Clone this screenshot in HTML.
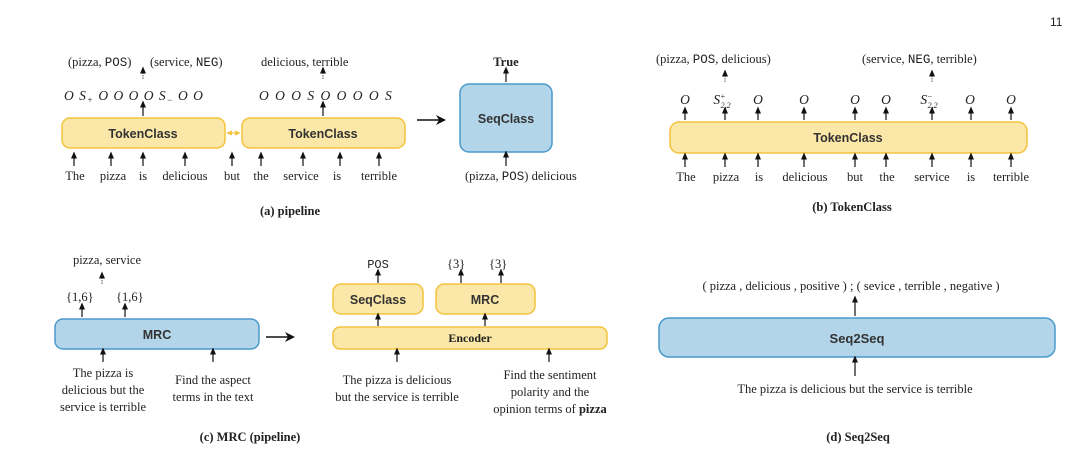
<!DOCTYPE html>
<html><head><meta charset="utf-8"><style>
html,body{margin:0;padding:0;background:#fff;}
svg{display:block;}
text{font-family:"Liberation Serif",serif;fill:#222;}
.s{font-family:"Liberation Sans",sans-serif;font-weight:bold;fill:#333;}
.p{font-family:"Liberation Sans",sans-serif;}
.m{font-family:"Liberation Mono",monospace;}
.y{fill:#fbe7a7;stroke:#f3c33d;stroke-width:1.5;}
.b{fill:#b3d5ea;stroke:#4a9acb;stroke-width:1.5;}
.a{stroke:#111;stroke-width:1.2;marker-end:url(#h);}
.d{stroke:#555;stroke-width:1;stroke-dasharray:1.5 1;marker-end:url(#h);}
</style></head><body>
<svg width="1080" height="462" viewBox="0 0 1080 462" xmlns="http://www.w3.org/2000/svg">
<defs>
<marker id="h" markerWidth="7" markerHeight="7" refX="3.5" refY="3.5" orient="auto" markerUnits="userSpaceOnUse"><path d="M0,0.5 L7,3.5 L0,6.5 z" fill="#111"/></marker>
<marker id="hb" markerWidth="12" markerHeight="12" refX="8" refY="5" orient="auto" markerUnits="userSpaceOnUse"><path d="M0,0 L10,5 L0,10 L3,5 z" fill="#111"/></marker>
<marker id="ho" markerWidth="6" markerHeight="6" refX="3" refY="3" orient="auto-start-reverse" markerUnits="userSpaceOnUse"><path d="M0,0.5 L6,3 L0,5.5 z" fill="#f3c33d"/></marker>
</defs>
<text x="1050" y="26" font-size="12" class="p">11</text>

<!-- (a) -->
<text x="68" y="66" font-size="12.5">(pizza, <tspan class="m">POS</tspan>)</text>
<text x="150" y="66" font-size="12.5">(service, <tspan class="m">NEG</tspan>)</text>
<line class="d" x1="143" y1="79" x2="143" y2="70"/>
<text x="64" y="100" font-size="13.5" font-style="italic" letter-spacing="1">O S<tspan font-size="9" dy="3">+</tspan><tspan dy="-3"> O O O O S</tspan><tspan font-size="9" dy="3">−</tspan><tspan dy="-3"> O O</tspan></text>
<line class="a" x1="143" y1="116" x2="143" y2="104"/>
<text x="261" y="66" font-size="12.5">delicious, terrible</text>
<line class="d" x1="323" y1="79" x2="323" y2="70"/>
<text x="259" y="100" font-size="13.5" font-style="italic" letter-spacing="1.5">O O O S O O O O S</text>
<line class="a" x1="323" y1="116" x2="323" y2="104"/>
<rect class="y" x="62" y="118" width="163" height="30" rx="8"/>
<text x="143" y="138" font-size="12.5" class="s" text-anchor="middle">TokenClass</text>
<rect class="y" x="242" y="118" width="163" height="30" rx="8"/>
<text x="323" y="138" font-size="12.5" class="s" text-anchor="middle">TokenClass</text>
<line x1="229" y1="133" x2="238" y2="133" stroke="#f3c33d" stroke-width="1.2" marker-end="url(#ho)" marker-start="url(#ho)"/>
<g font-size="12.5" text-anchor="middle">
<text x="75" y="180">The</text><text x="113" y="180">pizza</text><text x="143" y="180">is</text><text x="185" y="180">delicious</text><text x="232" y="180">but</text><text x="261" y="180">the</text><text x="301" y="180">service</text><text x="337" y="180">is</text><text x="379" y="180">terrible</text>
</g>
<g>
<line class="a" x1="74" y1="166" x2="74" y2="155"/><line class="a" x1="111" y1="166" x2="111" y2="155"/><line class="a" x1="143" y1="166" x2="143" y2="155"/><line class="a" x1="185" y1="166" x2="185" y2="155"/><line class="a" x1="232" y1="166" x2="232" y2="155"/><line class="a" x1="261" y1="166" x2="261" y2="155"/><line class="a" x1="303" y1="166" x2="303" y2="155"/><line class="a" x1="340" y1="166" x2="340" y2="155"/><line class="a" x1="379" y1="166" x2="379" y2="155"/>
</g>
<line x1="417" y1="120" x2="444" y2="120" stroke="#111" stroke-width="1.5" marker-end="url(#hb)"/>
<rect class="b" x="460" y="84" width="92" height="68" rx="9"/>
<text x="506" y="123" font-size="12.5" class="s" text-anchor="middle">SeqClass</text>
<text x="506" y="66" font-size="12.5" font-weight="bold" text-anchor="middle">True</text>
<line class="a" x1="506" y1="82" x2="506" y2="70"/>
<line class="a" x1="506" y1="166" x2="506" y2="154"/>
<text x="465" y="180" font-size="12.5">(pizza, <tspan class="m">POS</tspan>)  delicious</text>
<text x="290" y="215" font-size="12.5" font-weight="bold" text-anchor="middle">(a) pipeline</text>

<!-- (b) -->
<text x="656" y="63" font-size="12.5">(pizza, <tspan class="m">POS</tspan>, delicious)</text>
<text x="862" y="63" font-size="12.5">(service, <tspan class="m">NEG</tspan>, terrible)</text>
<line class="d" x1="725" y1="82" x2="725" y2="73"/>
<line class="d" x1="932" y1="82" x2="932" y2="73"/>
<g font-size="13.5" font-style="italic" text-anchor="middle">
<text x="685" y="104">O</text><text x="722" y="104">S<tspan font-size="8" dy="-5">+</tspan><tspan font-size="8" dx="-5" dy="9">2,2</tspan></text><text x="758" y="104">O</text><text x="804" y="104">O</text><text x="855" y="104">O</text><text x="886" y="104">O</text><text x="929" y="104">S<tspan font-size="8" dy="-5">−</tspan><tspan font-size="8" dx="-5" dy="9">2,2</tspan></text><text x="970" y="104">O</text><text x="1011" y="104">O</text>
</g>
<g>
<line class="a" x1="685" y1="120" x2="685" y2="110"/><line class="a" x1="725" y1="120" x2="725" y2="110"/><line class="a" x1="758" y1="120" x2="758" y2="110"/><line class="a" x1="804" y1="120" x2="804" y2="110"/><line class="a" x1="855" y1="120" x2="855" y2="110"/><line class="a" x1="886" y1="120" x2="886" y2="110"/><line class="a" x1="932" y1="120" x2="932" y2="110"/><line class="a" x1="971" y1="120" x2="971" y2="110"/><line class="a" x1="1011" y1="120" x2="1011" y2="110"/>
</g>
<rect class="y" x="670" y="122" width="357" height="31" rx="9"/>
<text x="848" y="142" font-size="12.5" class="s" text-anchor="middle">TokenClass</text>
<g>
<line class="a" x1="685" y1="167" x2="685" y2="156"/><line class="a" x1="725" y1="167" x2="725" y2="156"/><line class="a" x1="758" y1="167" x2="758" y2="156"/><line class="a" x1="804" y1="167" x2="804" y2="156"/><line class="a" x1="855" y1="167" x2="855" y2="156"/><line class="a" x1="886" y1="167" x2="886" y2="156"/><line class="a" x1="932" y1="167" x2="932" y2="156"/><line class="a" x1="971" y1="167" x2="971" y2="156"/><line class="a" x1="1011" y1="167" x2="1011" y2="156"/>
</g>
<g font-size="12.5" text-anchor="middle">
<text x="686" y="181">The</text><text x="726" y="181">pizza</text><text x="759" y="181">is</text><text x="805" y="181">delicious</text><text x="855" y="181">but</text><text x="887" y="181">the</text><text x="932" y="181">service</text><text x="971" y="181">is</text><text x="1011" y="181">terrible</text>
</g>
<text x="852" y="211" font-size="12.5" font-weight="bold" text-anchor="middle">(b) TokenClass</text>

<!-- (c) -->
<text x="73" y="264" font-size="12.5">pizza, service</text>
<line class="d" x1="102" y1="284" x2="102" y2="275"/>
<text x="66" y="301" font-size="12.5">{1,6}</text>
<text x="116" y="301" font-size="12.5">{1,6}</text>
<line class="a" x1="82" y1="317" x2="82" y2="306"/>
<line class="a" x1="125" y1="317" x2="125" y2="306"/>
<rect class="b" x="55" y="319" width="204" height="30" rx="8"/>
<text x="157" y="339" font-size="12.5" class="s" text-anchor="middle">MRC</text>
<line class="a" x1="103" y1="362" x2="103" y2="351"/>
<line class="a" x1="213" y1="362" x2="213" y2="351"/>
<g font-size="12.5" text-anchor="middle">
<text x="103" y="377">The pizza is</text><text x="103" y="394">delicious but the</text><text x="103" y="411">service is terrible</text>
<text x="213" y="384">Find the aspect</text><text x="213" y="401">terms in the text</text>
</g>
<line x1="266" y1="337" x2="293" y2="337" stroke="#111" stroke-width="1.5" marker-end="url(#hb)"/>
<text x="378" y="268" font-size="12" class="m" text-anchor="middle">POS</text>
<text x="447" y="268" font-size="12.5">{3}</text>
<text x="489" y="268" font-size="12.5">{3}</text>
<line class="a" x1="378" y1="283" x2="378" y2="272"/>
<line class="a" x1="461" y1="283" x2="461" y2="272"/>
<line class="a" x1="501" y1="283" x2="501" y2="272"/>
<rect class="y" x="333" y="284" width="90" height="30" rx="8"/>
<text x="378" y="304" font-size="12.5" class="s" text-anchor="middle">SeqClass</text>
<rect class="y" x="436" y="284" width="99" height="30" rx="8"/>
<text x="485" y="304" font-size="12.5" class="s" text-anchor="middle">MRC</text>
<line class="a" x1="378" y1="326" x2="378" y2="316"/>
<line class="a" x1="485" y1="326" x2="485" y2="316"/>
<rect class="y" x="333" y="327" width="274" height="22" rx="7"/>
<text x="470" y="342" font-size="12" font-weight="bold" text-anchor="middle">Encoder</text>
<line class="a" x1="397" y1="362" x2="397" y2="351"/>
<line class="a" x1="549" y1="362" x2="549" y2="351"/>
<g font-size="12.5" text-anchor="middle">
<text x="397" y="384">The pizza is delicious</text><text x="397" y="401">but the service is terrible</text>
<text x="550" y="379">Find the sentiment</text><text x="550" y="396">polarity and the</text><text x="550" y="413">opinion terms of <tspan font-weight="bold">pizza</tspan></text>
</g>
<text x="250" y="441" font-size="12.5" font-weight="bold" text-anchor="middle">(c) MRC (pipeline)</text>

<!-- (d) -->
<text x="851" y="290" font-size="12.5" text-anchor="middle">( pizza , delicious , positive ) ; ( sevice , terrible , negative )</text>
<line class="a" x1="855" y1="316" x2="855" y2="299"/>
<rect class="b" x="659" y="318" width="396" height="39" rx="10"/>
<text x="857" y="343" font-size="13" class="s" text-anchor="middle">Seq2Seq</text>
<line class="a" x1="855" y1="376" x2="855" y2="359"/>
<text x="855" y="393" font-size="12.5" text-anchor="middle">The pizza is delicious but the service is terrible</text>
<text x="858" y="441" font-size="12.5" font-weight="bold" text-anchor="middle">(d) Seq2Seq</text>
</svg>
</body></html>
